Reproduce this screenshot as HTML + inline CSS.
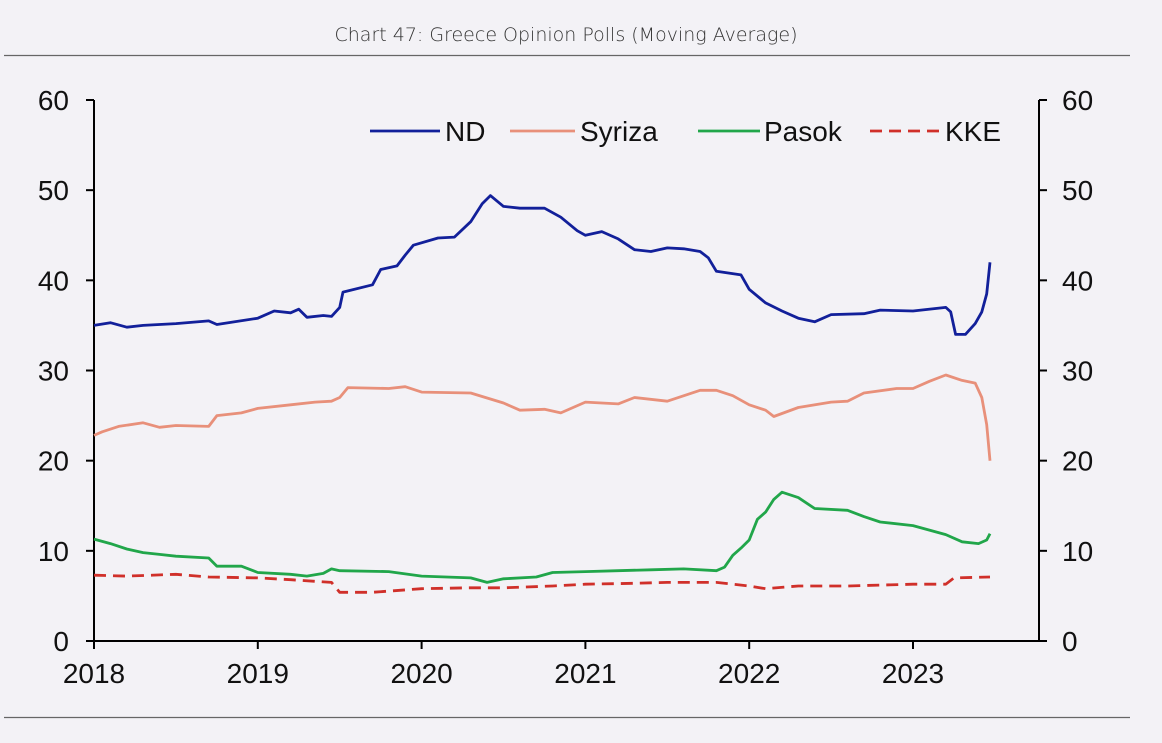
<!DOCTYPE html>
<html><head><meta charset="utf-8"><style>
body{margin:0;background:#f3f2f6;}
svg{display:block;font-family:"Liberation Sans",Arial,sans-serif;}
</style></head><body>
<svg width="1162" height="743" viewBox="0 0 1162 743">
<rect x="0" y="0" width="1162" height="743" fill="#f3f2f6"/>
<text x="566" y="41" text-anchor="middle" font-size="19" fill="#333" style="font-family:'DejaVu Sans','Liberation Sans',sans-serif;font-weight:300">Chart 47: Greece Opinion Polls (Moving Average)</text>
<line x1="4" y1="55.5" x2="1130" y2="55.5" stroke="#666" stroke-width="1.2"/>
<line x1="4" y1="717.5" x2="1130" y2="717.5" stroke="#666" stroke-width="1.2"/>
<g id="axes"></g>
<g id="series"></g>
<g id="legend"></g>
</svg>
<script>
const yTicks=[0,10,20,30,40,50,60];
const xTickLabels=[2018,2019,2020,2021,2022,2023];
const ndT=[2018.0,2018.1,2018.2,2018.3,2018.5,2018.7,2018.75,2019.0,2019.1,2019.2,2019.25,2019.3,2019.4,2019.45,2019.5,2019.52,2019.7,2019.75,2019.85,2019.9,2019.95,2020.1,2020.2,2020.3,2020.37,2020.42,2020.5,2020.6,2020.75,2020.85,2020.95,2021.0,2021.1,2021.2,2021.3,2021.4,2021.5,2021.6,2021.7,2021.75,2021.8,2021.95,2022.0,2022.1,2022.2,2022.3,2022.4,2022.5,2022.7,2022.8,2023.0,2023.2,2023.23,2023.26,2023.32,2023.38,2023.42,2023.45,2023.47];
const ndV=[35,35.3,34.8,35,35.2,35.5,35.1,35.8,36.6,36.4,36.8,35.9,36.1,36,37,38.7,39.5,41.2,41.6,42.8,43.9,44.7,44.8,46.5,48.5,49.4,48.2,48,48,47,45.5,45,45.4,44.6,43.4,43.2,43.6,43.5,43.2,42.5,41,40.6,39,37.5,36.6,35.8,35.4,36.2,36.3,36.7,36.6,37,36.5,34,34,35.2,36.5,38.5,42];
const syT=[2018.0,2018.05,2018.15,2018.3,2018.4,2018.5,2018.7,2018.75,2018.9,2019.0,2019.2,2019.35,2019.45,2019.5,2019.55,2019.8,2019.9,2020.0,2020.3,2020.5,2020.6,2020.75,2020.85,2021.0,2021.2,2021.3,2021.5,2021.7,2021.8,2021.9,2022.0,2022.1,2022.15,2022.3,2022.5,2022.6,2022.7,2022.9,2023.0,2023.1,2023.2,2023.3,2023.38,2023.42,2023.45,2023.47];
const syV=[22.8,23.2,23.8,24.2,23.7,23.9,23.8,25,25.3,25.8,26.2,26.5,26.6,27,28.1,28,28.2,27.6,27.5,26.4,25.6,25.7,25.3,26.5,26.3,27,26.6,27.8,27.8,27.2,26.2,25.6,24.9,25.9,26.5,26.6,27.5,28,28,28.8,29.5,28.9,28.6,27,24,20];
const paT=[2018.0,2018.1,2018.2,2018.3,2018.4,2018.5,2018.7,2018.75,2018.9,2019.0,2019.2,2019.3,2019.4,2019.45,2019.5,2019.8,2020.0,2020.3,2020.4,2020.5,2020.7,2020.8,2021.0,2021.2,2021.4,2021.6,2021.8,2021.85,2021.9,2021.95,2022.0,2022.05,2022.1,2022.15,2022.2,2022.3,2022.4,2022.6,2022.7,2022.8,2023.0,2023.2,2023.3,2023.4,2023.45,2023.47];
const paV=[11.3,10.8,10.2,9.8,9.6,9.4,9.2,8.3,8.3,7.6,7.4,7.2,7.5,8,7.8,7.7,7.2,7,6.5,6.9,7.1,7.6,7.7,7.8,7.9,8,7.8,8.2,9.5,10.3,11.2,13.5,14.3,15.7,16.5,15.9,14.7,14.5,13.8,13.2,12.8,11.8,11,10.8,11.2,11.9];
const kkT=[2018.0,2018.2,2018.5,2018.7,2019.0,2019.2,2019.45,2019.5,2019.7,2020.0,2020.3,2020.5,2020.8,2021.0,2021.3,2021.5,2021.8,2022.0,2022.1,2022.3,2022.6,2023.0,2023.2,2023.25,2023.47];
const kkV=[7.3,7.2,7.4,7.1,7,6.8,6.5,5.4,5.4,5.8,5.9,5.9,6.1,6.3,6.4,6.5,6.5,6.1,5.8,6.1,6.1,6.3,6.3,7,7.1];

const NS="http://www.w3.org/2000/svg";
const X0=94,X1=1039,Y0=641,Y1=100;
const xs=t=>X0+(t-2018)*163.8;
const ys=v=>Y0-(v/60)*(Y0-Y1);
function mk(tag,attrs,parent){const e=document.createElementNS(NS,tag);for(const k in attrs)e.setAttribute(k,attrs[k]);parent.appendChild(e);return e;}
const ax=document.getElementById('axes');
let e;
e=mk('line',{x1:X0,y1:Y1,x2:X0,y2:Y0,stroke:'#000','stroke-width':2},ax);


e=mk('line',{x1:X1,y1:Y1,x2:X1,y2:Y0,stroke:'#000','stroke-width':2},ax);


e=mk('line',{x1:X0,y1:Y0,x2:X1,y2:Y0,stroke:'#000','stroke-width':2},ax);


yTicks.forEach(v=>{
 const y=ys(v);
 e=mk('line',{x1:X0-8,y1:y,x2:X0,y2:y,stroke:'#000','stroke-width':2},ax);
 
 
 e=mk('line',{x1:X1,y1:y,x2:X1+8,y2:y,stroke:'#000','stroke-width':2},ax);
 
 
 e=mk('text',{x:69,y:y+10,'text-anchor':'end','font-size':28,fill:'#111'},ax);e.textContent=v;
 
 
 e=mk('text',{x:1062,y:y+10,'text-anchor':'start','font-size':28,fill:'#111'},ax);e.textContent=v;
 
 
});
xTickLabels.forEach(yr=>{
 const x=xs(yr);
 e=mk('line',{x1:x,y1:Y0,x2:x,y2:Y0+8,stroke:'#000','stroke-width':2},ax);
 
 
 e=mk('text',{x:x,y:683,'text-anchor':'middle','font-size':28,fill:'#111'},ax);e.textContent=yr;
 
 
});
const se=document.getElementById('series');
function line(T,V,color,w,dash,name){
 const d=T.map((t,i)=>(i?'L':'M')+xs(t).toFixed(1)+','+ys(V[i]).toFixed(1)).join('');
 const p=mk('path',{d:d,fill:'none',stroke:color,'stroke-width':w,'stroke-linejoin':'round'},se);
 if(dash)p.setAttribute('stroke-dasharray',dash);
 
 
}
line(syT,syV,'#e8907a',2.8,null,'syriza-line');
line(paT,paV,'#21a64a',2.8,null,'pasok-line');
line(kkT,kkV,'#d0302a',2.8,'12,7','kke-line');
line(ndT,ndV,'#12209a',2.8,null,'nd-line');
const lg=document.getElementById('legend');
[[370,440,445,'ND','#12209a',null],[510,575,580,'Syriza','#e8907a',null],[698,760,764,'Pasok','#21a64a',null],[870,940,945,'KKE','#d0302a','12,7']].forEach(r=>{
 e=mk('line',{x1:r[0],y1:131,x2:r[1],y2:131,stroke:r[4],'stroke-width':2.8},lg);
 if(r[5])e.setAttribute('stroke-dasharray',r[5]);
 
 
 e=mk('text',{x:r[2],y:141,'font-size':28,fill:'#111'},lg);e.textContent=r[3];
 
 
});
</script>
</body></html>
